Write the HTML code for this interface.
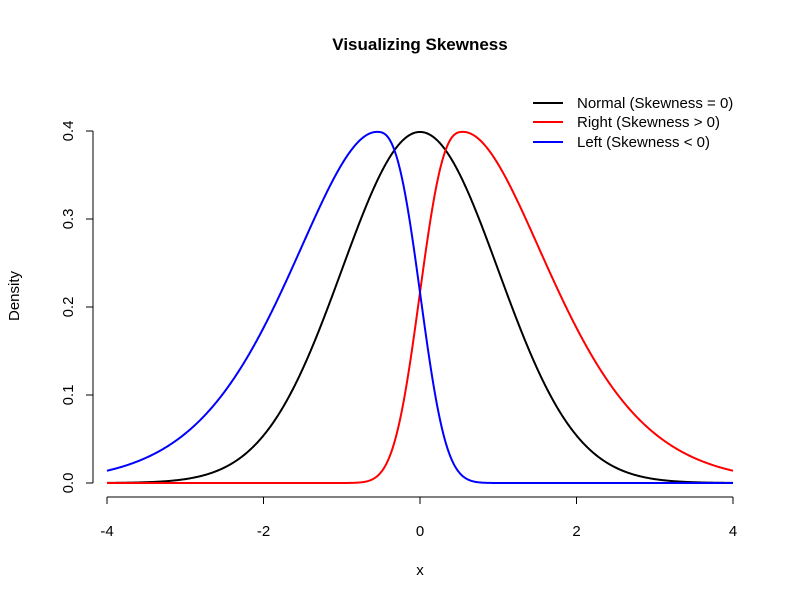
<!DOCTYPE html>
<html><head><style>body{margin:0;background:#fff}svg{display:block}text{font-family:"Liberation Sans",Arial,sans-serif}</style></head>
<body>
<svg id="s" width="800" height="600" xmlns="http://www.w3.org/2000/svg">
<rect width="800" height="600" fill="#fff"/>
<text x="420" y="50" font-size="17" font-weight="bold" text-anchor="middle">Visualizing Skewness</text>
<g stroke="#000" stroke-width="1" fill="none">
<line x1="107" y1="497" x2="733" y2="497"/>
<line x1="107" y1="497" x2="107" y2="504"/><line x1="263.5" y1="497" x2="263.5" y2="504"/><line x1="420" y1="497" x2="420" y2="504"/><line x1="576.5" y1="497" x2="576.5" y2="504"/><line x1="733" y1="497" x2="733" y2="504"/>
<line x1="93" y1="131" x2="93" y2="483"/>
<line x1="86" y1="483" x2="93" y2="483"/><line x1="86" y1="395" x2="93" y2="395"/><line x1="86" y1="307" x2="93" y2="307"/><line x1="86" y1="219" x2="93" y2="219"/><line x1="86" y1="131" x2="93" y2="131"/>
</g>
<g font-size="15" text-anchor="middle">
<text x="107" y="536">-4</text><text x="263.5" y="536">-2</text><text x="420" y="536">0</text><text x="576.5" y="536">2</text><text x="733" y="536">4</text>
<text transform="translate(73,483) rotate(-90)">0.0</text>
<text transform="translate(73,395) rotate(-90)">0.1</text>
<text transform="translate(73,307) rotate(-90)">0.2</text>
<text transform="translate(73,219) rotate(-90)">0.3</text>
<text transform="translate(73,131) rotate(-90)">0.4</text>
<text x="420" y="575">x</text>
<text transform="translate(19,296) rotate(-90)">Density</text>
</g>
<g stroke-width="2">
<line x1="533" y1="103" x2="563" y2="103" stroke="#000"/>
<line x1="533" y1="122" x2="563" y2="122" stroke="#f00"/>
<line x1="533" y1="142" x2="563" y2="142" stroke="#00f"/>
</g>
<g font-size="15">
<text x="577" y="108">Normal (Skewness = 0)</text>
<text x="577" y="127">Right (Skewness &gt; 0)</text>
<text x="577" y="147">Left (Skewness &lt; 0)</text>
</g>
<path id="pk" fill="none" stroke="#000" stroke-width="2"/>
<path id="pr" fill="none" stroke="#f00" stroke-width="2"/>
<path id="pb" fill="none" stroke="#00f" stroke-width="2"/>
</svg>
<script>
function red(x){var d=x-0.55,v;
 if(d>=0){v=d*d/(2*(0.933+0.244*d));}
 else{v=3.07*Math.pow(-d,2.7);}
 return 0.399*Math.exp(-v);}
function nrm(x){return Math.exp(-x*x/2)/Math.sqrt(2*Math.PI);}
function path(f){var s="";for(var i=0;i<=800;i++){var x=-4+8*i/800;var px=420+x*78.25,py=483-f(x)*880;s+=(i?"L":"M")+px.toFixed(2)+","+py.toFixed(2);}return s;}
document.getElementById("pk").setAttribute("d",path(nrm));
document.getElementById("pr").setAttribute("d",path(red));
document.getElementById("pb").setAttribute("d",path(function(x){return red(-x);}));
</script>
</body></html>
